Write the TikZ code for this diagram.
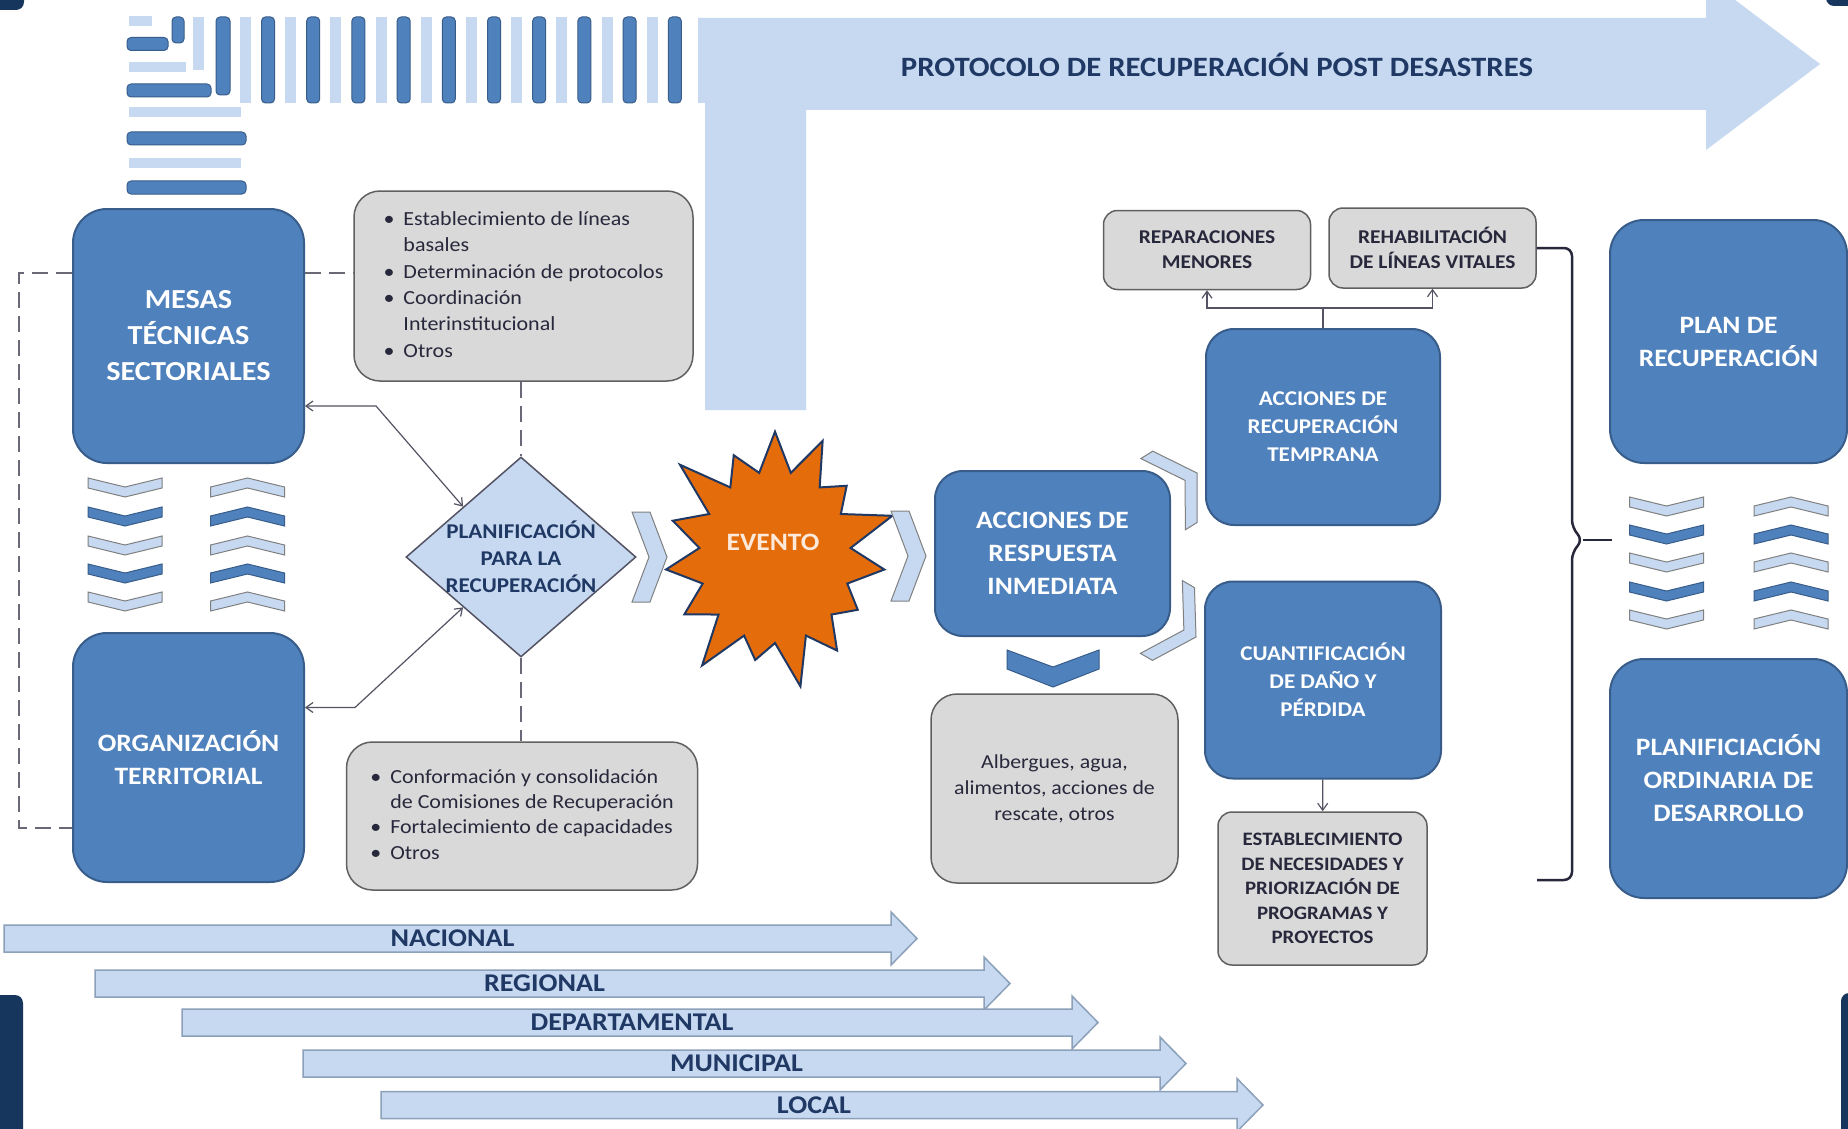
\documentclass[tikz,border=0pt]{standalone}
\usepackage{fontspec}
\setmainfont{Carlito}[FakeStretch=1.1]
\usetikzlibrary{shapes.geometric,shapes.symbols,arrows.meta}

\definecolor{paleblue}{RGB}{198,217,241}
\definecolor{boxblue}{RGB}{79,129,189}
\definecolor{boxedge}{RGB}{56,93,138}
\definecolor{navy}{RGB}{31,56,100}
\definecolor{framenavy}{RGB}{23,54,93}
\definecolor{boxgray}{RGB}{217,217,217}
\definecolor{grayedge}{RGB}{96,96,96}
\definecolor{ink}{RGB}{40,40,60}
\definecolor{blast}{RGB}{228,108,10}
\definecolor{blasttext}{RGB}{253,233,217}
\definecolor{leveledge}{RGB}{140,160,185}

\tikzset{
  bluebox/.style={draw=boxedge, line width=2pt, fill=boxblue, rounded corners=34pt,
    inner sep=0pt, text=white, align=center,
    font=\fontsize{25}{33}\selectfont\bfseries},
  stepbluebox/.style={bluebox, rounded corners=28pt,
    font=\fontsize{21}{28}\selectfont\bfseries},
  graybox/.style={draw=grayedge, line width=1.5pt, fill=boxgray, rounded corners=26pt,
    inner sep=0pt, text=ink, align=center,
    font=\fontsize{19.8}{26}\selectfont},
  notebox/.style={graybox, rounded corners=14pt,
    font=\fontsize{19.5}{25}\selectfont\bfseries},
  plandiamond/.style={diamond, draw=ink!80, line width=1.5pt, fill=paleblue,
    minimum width=230pt, minimum height=200pt, inner sep=-35pt,
    text=navy, align=center, font=\fontsize{21}{27}\selectfont\bfseries},
  blastshape/.style={starburst, starburst points=15, starburst point height=55pt,
    draw=navy, line width=2pt, fill=blast, minimum width=262pt, minimum height=282pt},
  blastlabel/.style={text=blasttext, font=\fontsize{25}{28}\selectfont\bfseries},
  titlelabel/.style={text=navy, font=\fontsize{28}{32}\selectfont\bfseries},
  levelarrow/.style={draw=leveledge, line width=1.5pt, fill=paleblue},
  levellabel/.style={text=navy, font=\fontsize{25.5}{28}\selectfont\bfseries},
  lightchev/.style={fill=paleblue, draw=gray, line width=1pt},
  darkchev/.style={fill=boxblue, draw=boxedge, line width=1pt},
  lightbar/.style={fill=paleblue},
  darkbar/.style={fill=boxblue, draw=boxedge, line width=1pt, rounded corners=4pt},
  twoway/.style={draw=ink!80, line width=1.2pt,
    {Straight Barb[length=7pt,width=10pt]}-{Straight Barb[length=7pt,width=10pt]}},
  treelink/.style={draw=ink!80, line width=1.2pt, -{Straight Barb[length=7pt,width=10pt]}},
  dashlink/.style={draw=ink!70, line width=2.2pt, dash pattern=on 16pt off 8pt},
  bracket/.style={draw=ink, line width=2.5pt, rounded corners=8pt},
  chevdown/.pic={\path[pic actions] (-37,0) -- (0,9) -- (37,0) -- (37,10) -- (0,19) -- (-37,10) -- cycle;},
  chevup/.pic={\path[pic actions] (-37,9) -- (0,0) -- (37,9) -- (37,19) -- (0,10) -- (-37,19) -- cycle;},
  chevright/.pic={\path[pic actions] (-35,-45) -- (-17,-45) -- (0,0) -- (-17,45) -- (-35,45) -- (-18,0) -- cycle;},
  chevslant/.pic={\path[pic actions] (-40,-42) -- (-26,-42) -- (0,0) -- (-26,42) -- (-40,42) -- (-14,0) -- cycle;},
  chevbig/.pic={\path[pic actions] (-46,0) -- (0,17) -- (46,0) -- (46,19) -- (0,37) -- (-46,19) -- cycle;}
}

\begin{document}
\begin{tikzpicture}[x=1pt,y=-1pt]

\useasboundingbox (0,0) rectangle (1848,1129);
\clip (0,0) rectangle (1848,1129);
\fill[white] (0,0) rectangle (1848,1129);

% frame pieces at the corners
\fill[framenavy, rounded corners=8pt] (-20,-20) rectangle (24,10);
\fill[framenavy, rounded corners=8pt] (-20,995) rectangle (23,1160);
\fill[framenavy, rounded corners=8pt] (1841,993) rectangle (1880,1160);
\fill[framenavy, rounded corners=8pt] (1826,-20) rectangle (1880,6);

% stripes in the top left corner
\fill[lightbar] (193,17) rectangle (204,70);
\foreach \k in {0,...,9}
  \fill[lightbar] (240+45.2*\k,17) rectangle (251+45.2*\k,103);
\foreach \y/\r in {21/152, 67/186, 112/241, 163/241}
  \fill[lightbar] (129,\y-5) rectangle (\r,\y+5);
\draw[darkbar] (172,17) rectangle (184,43);
\draw[darkbar] (216,17) rectangle (230,95);
\foreach \k in {0,...,9}
  \draw[darkbar] (261.5+45.2*\k,17) rectangle (274.5+45.2*\k,103);
\foreach \y/\r in {44/168, 90.5/211, 138.5/246, 187.5/246}
  \draw[darkbar] (127,\y-6.5) rectangle (\r,\y+6.5);

% protocol arrow
\fill[paleblue] (698,18) -- (1706,18) -- (1706,-22) -- (1820,64) -- (1706,150)
  -- (1706,110) -- (806,110) -- (806,410) -- (705,410) -- (705,103) -- (698,103) -- cycle;
\node[titlelabel] (protocolo) at (1217,65) {PROTOCOLO DE RECUPERACIÓN POST DESASTRES};

% left column
\node[bluebox, minimum width=231pt, minimum height=254pt,
  font=\fontsize{27.5}{36}\selectfont\bfseries] (mesas) at (188.5,336)
  {MESAS\\TÉCNICAS\\SECTORIALES};
\node[bluebox, minimum width=231pt, minimum height=249pt] (org) at (188.5,757.5)
  {ORGANIZACIÓN\\TERRITORIAL};
\foreach \y/\s in {478/lightchev, 507/darkchev, 536/lightchev, 564/darkchev, 592/lightchev} {
  \pic[\s] at (125,\y) {chevdown};
  \pic[\s] at (247.5,\y) {chevup};
}

\node[graybox, minimum width=339pt, minimum height=190pt] (basales) at (523.5,286)
  {\fontsize{20}{26.3}\selectfont
   \begin{tabular}{@{}l@{\hspace{9pt}}l@{}}
   \textbullet & Establecimiento de líneas\\
               & basales\\
   \textbullet & Determinación de protocolos\\
   \textbullet & Coordinación\\
               & Interinstitucional\\
   \textbullet & Otros
   \end{tabular}};
\node[graybox, minimum width=351pt, minimum height=148pt] (comisiones) at (522,816)
  {\fontsize{20}{25.3}\selectfont
   \begin{tabular}{@{}l@{\hspace{9pt}}l@{}}
   \textbullet & Conformación y consolidación\\
               & de Comisiones de Recuperación\\
   \textbullet & Fortalecimiento de capacidades\\
   \textbullet & Otros
   \end{tabular}};

\node[plandiamond] (plan) at (521,557) {PLANIFICACIÓN\\PARA LA\\RECUPERACIÓN};

\coordinate (mesas-tie) at ([yshift=63pt]mesas.west);
\coordinate (org-tie) at ([yshift=-70.5pt]org.west);
\coordinate (mesas-out) at ([yshift=63pt]mesas.east);
\draw[dashlink] (mesas-tie) -- ++(-53,0) |- (org-tie);
\draw[dashlink] (mesas-out) -- (mesas-out -| basales.west);
\draw[dashlink] (plan.north |- basales.south) -- (plan.north);
\draw[dashlink] (plan.south) -- (plan.south |- comisiones.north);

\draw[twoway] ([yshift=-70pt]mesas.east) -- ++(71,0) -- (plan.north west);
\draw[twoway] ([yshift=50pt]org.east) -- ++(50,0) -- (plan.south west);

% the event
\pic[lightchev] at (667,557) {chevright};
\node[blastshape] (evento) at (775,557) {};
\node[blastlabel] (evento-txt) at (773,542) {EVENTO};
\pic[lightchev] at (926,556) {chevright};

% response and early recovery
\node[bluebox, minimum width=235pt, minimum height=165pt, rounded corners=28pt] (respuesta)
  at (1052.5,553.5) {ACCIONES DE\\RESPUESTA\\INMEDIATA};
\pic[darkchev] at (1053,650) {chevbig};
\node[graybox, minimum width=247pt, minimum height=189pt] (albergues) at (1054.5,788.5)
  {Albergues, agua,\\alimentos, acciones de\\rescate, otros};
\pic[lightchev, rotate=32] at (1197,473) {chevslant};
\pic[lightchev, rotate=-30] at (1196,637) {chevslant};

\node[stepbluebox, minimum width=234pt, minimum height=196pt] (temprana) at (1323,427)
  {ACCIONES DE\\RECUPERACIÓN\\TEMPRANA};
\node[stepbluebox, minimum width=236pt, minimum height=197pt] (cuantificacion) at (1323,680)
  {CUANTIFICACIÓN\\DE DAÑO Y\\PÉRDIDA};
\node[notebox, minimum width=207pt, minimum height=79pt] (reparaciones) at (1207,250)
  {REPARACIONES\\MENORES};
\node[notebox, minimum width=207pt, minimum height=80pt] (rehabilitacion) at (1432.5,248)
  {REHABILITACIÓN\\DE LÍNEAS VITALES};
\node[notebox, minimum width=209pt, minimum height=153pt,
  font=\fontsize{19}{24.5}\selectfont\bfseries] (necesidades) at (1322.5,888.5)
  {ESTABLECIMIENTO\\DE NECESIDADES Y\\PRIORIZACIÓN DE\\PROGRAMAS Y\\PROYECTOS};

\draw[treelink] (temprana.north) -- ++(0,-20) -| (reparaciones);
\draw[treelink] (temprana.north) -- ++(0,-20) -| (rehabilitacion);
\draw[treelink] (cuantificacion) -- (necesidades);

% plans on the right
\node[bluebox, minimum width=237pt, minimum height=243pt] (planrec) at (1728.5,341.5)
  {PLAN DE\\RECUPERACIÓN};
\node[bluebox, minimum width=237pt, minimum height=239pt] (planord) at (1728.5,778.5)
  {PLANIFICIACIÓN\\ORDINARIA DE\\DESARROLLO};
\foreach \y/\s in {497/lightchev, 525/darkchev, 553/lightchev, 582/darkchev, 610/lightchev} {
  \pic[\s] at (1666.5,\y) {chevdown};
  \pic[\s] at (1791,\y) {chevup};
}

\coordinate (brace-tip) at (1612,540);
\coordinate (brace-end) at (1537,880);
\draw[bracket] (rehabilitacion.east) -- (1572,248) -- (1572,528) -- (1583,540)
  -- (1572,552) -- (1572,880) -- (brace-end);
\draw[bracket] (1583,540) -- (brace-tip);

% levels
\foreach \name/\a/\b/\y/\txt in {nacional/4/917/938.5/NACIONAL,
    regional/95/1010/983.5/REGIONAL, departamental/182/1098/1022.5/DEPARTAMENTAL,
    municipal/303/1186/1063.5/MUNICIPAL, local/381/1263/1105/LOCAL} {
  \draw[levelarrow] (\a,\y-13.5) -- (\b-26,\y-13.5) -- (\b-26,\y-26.5) -- (\b,\y)
    -- (\b-26,\y+26.5) -- (\b-26,\y+13.5) -- (\a,\y+13.5) -- cycle;
  \node[levellabel] (\name) at ({(\a+\b)/2-8},\y) {\txt};
}

\end{tikzpicture}
\end{document}
